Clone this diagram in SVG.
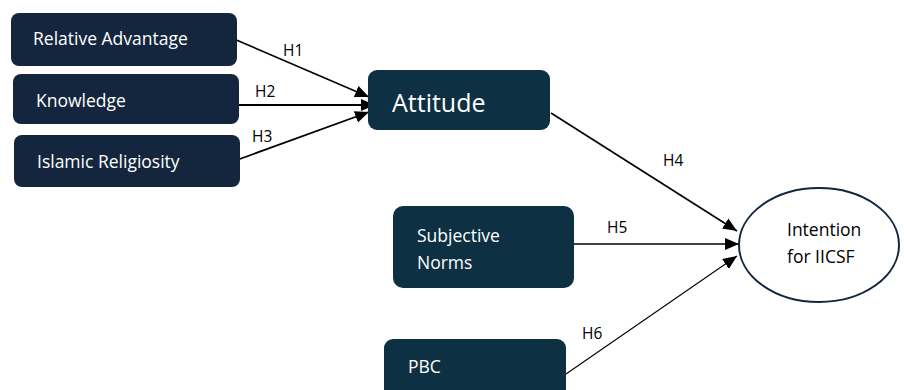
<svg xmlns="http://www.w3.org/2000/svg" width="904" height="390" viewBox="0 0 904 390">
<style>
.box1{fill:#13263e}
.box2{fill:#0d3042}
.t{font-family:"Open Sans","Liberation Sans",sans-serif;fill:#ffffff;font-size:17.5px}
.lbl{font-family:"Open Sans","Liberation Sans",sans-serif;fill:#000000;font-size:15.5px}
.dark{font-family:"Open Sans","Liberation Sans",sans-serif;fill:#000000;font-size:17.5px}
.c{stroke:#000;fill:none}
</style>
<defs>
<marker id="ah" markerUnits="userSpaceOnUse" markerWidth="15" markerHeight="13" refX="14" refY="6" orient="auto">
<path d="M0,0 L14,6 L0,12 z" fill="#000"/>
</marker>
</defs>
<rect width="904" height="390" fill="#ffffff"/>
<g id="connectors">
<line class="c" x1="234" y1="39" x2="369" y2="97" stroke-width="1.6" marker-end="url(#ah)"/>
<line class="c" x1="239" y1="105" x2="375" y2="105" stroke-width="1.8" marker-end="url(#ah)"/>
<line class="c" x1="237" y1="160" x2="369" y2="112" stroke-width="1.8" marker-end="url(#ah)"/>
<line class="c" x1="551" y1="113" x2="737" y2="231" stroke-width="1.6" marker-end="url(#ah)"/>
<line class="c" x1="574" y1="244" x2="739" y2="244" stroke-width="1.6" marker-end="url(#ah)"/>
<line class="c" x1="566" y1="374" x2="737" y2="256" stroke-width="1.1" marker-end="url(#ah)"/>
<text class="lbl" x="283" y="56">H1</text>
<text class="lbl" x="255" y="97">H2</text>
<text class="lbl" x="252" y="142">H3</text>
<text class="lbl" x="663" y="166">H4</text>
<text class="lbl" x="607" y="233">H5</text>
<text class="lbl" x="582" y="339">H6</text>
</g>
<g id="relative-advantage">
<rect class="box1" x="11" y="13" width="226" height="53" rx="8"/>
<text class="t" x="33" y="45">Relative Advantage</text>
</g>
<g id="knowledge">
<rect class="box1" x="13" y="74" width="226" height="50" rx="8"/>
<text class="t" x="36" y="107">Knowledge</text>
</g>
<g id="islamic-religiosity">
<rect class="box1" x="14" y="135" width="226" height="52" rx="8"/>
<text class="t" x="37" y="168">Islamic Religiosity</text>
</g>
<g id="attitude">
<rect class="box2" x="368" y="70" width="182" height="60" rx="9"/>
<text class="t" x="392" y="112" style="font-size:25px">Attitude</text>
</g>
<g id="subjective-norms">
<rect class="box2" x="393" y="206" width="181" height="82" rx="10"/>
<text class="t" x="417" y="242">Subjective</text>
<text class="t" x="417" y="269">Norms</text>
</g>
<g id="pbc">
<rect class="box2" x="384" y="339" width="182" height="70" rx="9"/>
<text class="t" x="408" y="373">PBC</text>
</g>
<g id="intention">
<ellipse cx="819" cy="245" rx="80" ry="57" fill="#ffffff" stroke="#12263f" stroke-width="2"/>
<text class="dark" x="787" y="236">Intention</text>
<text class="dark" x="787" y="263">for IICSF</text>
</g>
</svg>
